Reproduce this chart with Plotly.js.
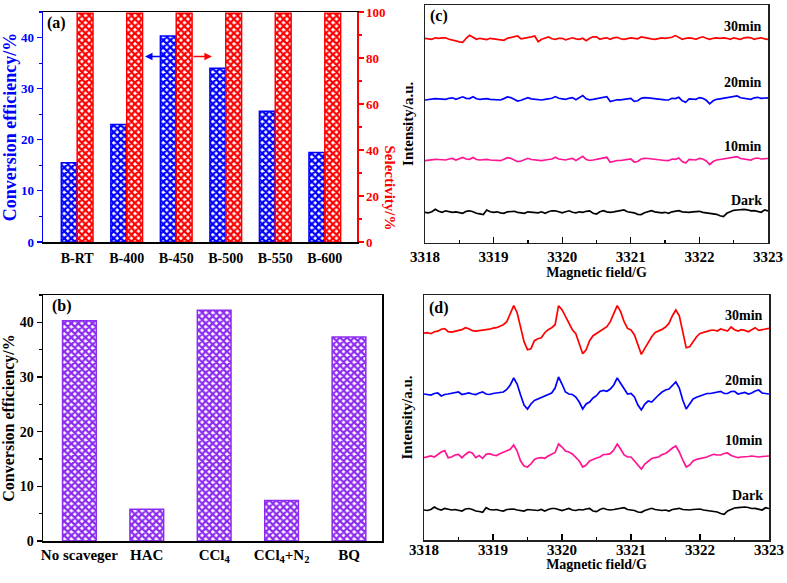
<!DOCTYPE html>
<html><head><meta charset="utf-8">
<script src="https://cdn.plot.ly/plotly-3.0.1.min.js"></script>
<style>html,body{margin:0;padding:0;background:#fff}</style>
</head><body><div id="chart" style="width:787px;height:583px"></div>
<script>
// ---------- Panel (a) ----------
const catsA = ['B-RT','B-400','B-450','B-500','B-550','B-600'];
const convA = [15.5, 23.0, 40.3, 34.0, 25.6, 17.5];
const selA  = [99.5, 99.5, 99.5, 99.5, 99.5, 99.5];
// ---------- Panel (b) ----------
const catsB = ['No scaveger','HAC','CCl<sub>4</sub>','CCl<sub>4</sub>+N<sub>2</sub>','BQ'];
const convB = [40.3, 5.8, 42.2, 7.4, 37.3];
// ---------- ESR field grid (G) ----------
const fieldStart = 3318, fieldStep = 0.05, fieldCount = 101;
const fieldTicks = [3318, 3319, 3320, 3321, 3322, 3323];
// ---------- Panel (c) spectra (deviation from baseline) ----------
const c30 = [0,-0.5,-1,0.5,0,0.5,0.5,-1,-1.5,-2.5,
  -3.5,-4,0,3,1,-1,0,-0.5,-1.3,0,
  -0.5,-1,-1.5,-2,0,0.7,1.3,2.3,-0.5,0,
  0.5,1.5,2.3,-3.5,-1,0.5,1.3,-0.5,-1,0,
  0,-1.5,-0.5,0.5,-0.5,-1,0,-2.5,0,1.5,
  1.5,-1,0,0.5,-1,0.5,1,-0.5,-1,0,
  0.5,0,-0.5,1.3,0.5,0,-0.5,-1,0,0.5,
  0,0.5,1,2.7,1,-1,0,0.5,0,-1,
  0.5,1.5,0,-1,0,0.5,0,0.5,0,-1,
  0.5,0,-1,0.5,1,0.5,-1,0,0.5,-0.5,
  -1];
const c20 = [-0.7,0,0.5,0.7,0.5,0,0,1,1.5,0,
  1,2.5,1,0.7,2.5,0.5,0,0.5,0.7,0,
  0,-0.5,-0.7,0.7,2.3,1.7,0,-1.7,-1,0,
  1.7,0.5,0,-0.5,-0.7,0,0.7,1,2.7,1,
  0.5,0,1,1.7,-0.5,1.5,3.7,0.5,-0.5,0,
  0.5,1,2,2.7,-2.3,-1.5,-0.5,-0.5,0,0,
  1,-2,-1.5,1,1.7,1.5,1,0.7,0,0,
  -0.5,-0.7,1,0.7,2,-1.5,-3,0.5,0,0,
  1.7,1,-1,-4.5,-1.5,0,0.5,1,1.5,2,
  2.7,3.3,1.5,1,0,0,1.5,2,1,1,
  1.5];
const c10 = c20.slice();
const darkSpec = [0,-0.5,0.5,3,1,0,1.5,0.5,0,0.5,
  -0.5,-1,1,1.5,0.5,-1,-1.5,-2.3,2.3,0.5,
  0,0.5,-0.5,-1,0.5,1,1,0,-0.5,-1,
  0.5,0,0,-0.5,0.5,-1,0.5,1.5,1.5,0.5,
  -0.5,0.5,1.5,0,-0.5,0.5,0,1,1.5,-1,
  -1.7,0.5,1.7,0.5,0,0.5,1,2,2.3,0.5,
  0,-0.5,-2,-2.3,-0.5,1,1.7,0.5,0,-0.5,
  0,-1,0.5,1,1.7,0.5,0,0,0.5,1,
  1,0,-0.5,-1,-1.5,-2,-3.5,-4.3,-1,0.5,
  2,2.3,2.7,3,2.5,1.5,1.7,0.5,0,2.3,
  1.5];
// ---------- Panel (d) spectra (deviation from baseline) ----------
const d30 = [-1.5,-1,-2,0,0.5,2.5,3,0,-0.5,0.5,
  1,2,4,3,1,0.5,1,1.5,1.5,2.5,
  3.5,4,5.5,7,10,18,26,19,3,-10,
  -18,-17,-9,-7,-6,-1,2,4,7,26,
  22,15,8,2,-2,-12,-22,-18,-9,-4,
  -1.7,0.7,3.3,5,10,18,26,20,10,3.3,
  1.7,-3.3,-13.3,-22.7,-16.7,-10.7,-5,-0.7,0.7,2.3,
  4.7,8.3,16,21.7,16,0,-16,-15,-10,-5,
  -1.7,-0.7,0.7,1.3,1.7,0.7,2.7,1.3,0.7,4.7,
  2,0.7,2,1.3,0,2,4,1.3,2,2.7,
  3.3];
const d20 = [0,-0.5,-1,0.5,1,-2,-0.5,0,0.5,1.5,
  2,-0.5,0.5,1,0,-0.5,1,2,0,-0.5,
  0.5,1,1.5,2,4.5,9,16,10,-1,-11,
  -15,-10,-6.5,-5,-4,-2,-0.5,1,6,17,
  10,2,0,-0.5,-3,-8,-15,-10,-8,-4,
  -1.7,2.5,3.5,2.7,5,9,16,11,5,0,
  0.5,-3,-11,-16,-10,-7,-8,-4,-1,2,
  4,5,9,12,6,-6,-15,-10,-5,-3.3,
  -2,0,0.5,0.5,1,1.5,2.7,0.5,0.5,2.5,
  2.7,0,0.5,1.5,0,1,3,4,1,0.5,
  0];
const d10 = [-0.7,0.5,1,0,2.7,5,6.5,-0.7,0,2,
  2.7,-0.7,2.5,5,4,-0.7,1.5,-1.3,2.7,3.3,
  2,1.5,3.3,5,6.5,7.7,12,6,-4,-9,
  -10,-7,-2.5,-1,-0.7,-1.3,1,3,4.5,13,
  10,6,5,3,-0.7,-4,-10,-8,-4,-2.3,
  -1,0,2.5,2.7,3.3,7,13,8,2,0,
  0,-4,-8,-12,-7,-4.5,-1.5,-0.7,0,2.5,
  3.5,6,9,11,5,-3,-10,-8,-4,-2.3,
  -1.5,-1.3,0,1.5,2.7,2,2,3.5,4,1.5,
  0,-0.7,0,0,0.5,1,0.5,0,0.5,1,
  1];
const dDark = darkSpec.slice();
// vertical stacking offsets (arbitrary intensity units)
const offC = {m30: 204.4, m20: 143.4, m10: 82.7, dark: 30.4};
const offD = {m30: 208.3, m20: 146.0, m10: 83.0, dark: 30.0};
const specLabels = ['30min','20min','10min','Dark'];

// ---------- build ----------
const field = [];
for (let i = 0; i < fieldCount; i++) field.push(+(fieldStart + i*fieldStep).toFixed(3));
const shift = (arr, o) => arr.map(v => v + o);

const F = 'Liberation Serif, Times New Roman, serif';
const RED = '#ff0000', BLUE = '#0000ff', PINK = '#ff1493', PURPLE = '#8d2cf0';
const pat = c => ({color: c, line: {color: c, width: 1.5},
  pattern: {shape: 'x', size: 5, solidity: 0.7, fillmode: 'replace'}});

const traces = [
  {type:'bar', x: catsA, y: convA, xaxis:'x', yaxis:'y', width:0.32, offset:-0.32, marker: pat(BLUE), hoverinfo:'none'},
  {type:'bar', x: catsA, y: selA, xaxis:'x', yaxis:'y2', width:0.32, offset:0.0, marker: pat(RED), hoverinfo:'none'},
  {type:'bar', x: catsB, y: convB, xaxis:'x2', yaxis:'y3', width:0.5, marker: pat(PURPLE), hoverinfo:'none'},
];
const lineT = (y, color, xa, ya) => ({type:'scatter', mode:'lines', x: field, y: y, xaxis: xa, yaxis: ya,
  line: {color: color, width: 1.7}, hoverinfo:'none'});
traces.push(lineT(shift(c30, offC.m30), RED, 'x3', 'y4'));
traces.push(lineT(shift(c20, offC.m20), BLUE, 'x3', 'y4'));
traces.push(lineT(shift(c10, offC.m10), PINK, 'x3', 'y4'));
traces.push(lineT(shift(darkSpec, offC.dark), '#000000', 'x3', 'y4'));
traces.push(lineT(shift(d30, offD.m30), RED, 'x4', 'y5'));
traces.push(lineT(shift(d20, offD.m20), BLUE, 'x4', 'y5'));
traces.push(lineT(shift(d10, offD.m10), PINK, 'x4', 'y5'));
traces.push(lineT(shift(dDark, offD.dark), '#000000', 'x4', 'y5'));

const W = 787, H = 583;
const px = v => v / W, py = v => 1 - v / H;
const bf = (size, color) => ({family: F, size: size, color: color || '#000', weight: 'bold'});

const fieldAxis = (dom, anchor, lso, tso) => ({domain: dom, anchor: anchor, range: [3318, 3323], tickvals: fieldTicks,
  ticks: 'inside', ticklen: 6, tickwidth: 1.2, tickcolor: '#000',
  minor: {dtick: 0.5, ticks: 'inside', ticklen: 3, tickcolor: '#000'},
  showline: true, linecolor: '#222', linewidth: 1.5, mirror: true, showgrid: false, zeroline: false,
  tickfont: bf(15), ticklabelstandoff: lso, title: {text: 'Magnetic field/G', font: bf(14), standoff: tso}});
const intAxis = (dom, anchor, top) => ({domain: dom, anchor: anchor, range: [0, top], showticklabels: false, ticks: '',
  showline: true, linecolor: '#222', linewidth: 1.5, mirror: true, showgrid: false, zeroline: false,
  title: {text: 'Intensity/a.u.', font: bf(15), standoff: 6}});

const layout = {
  width: W, height: H, autosize: false, margin: {l:0, r:0, t:0, b:0},
  paper_bgcolor: '#fff', plot_bgcolor: '#fff', showlegend: false, barmode: 'overlay',
  font: {family: F},
  xaxis: {domain: [px(43), px(357)], anchor: 'y', type: 'category', range: [-0.69, 5.65],
    showline: true, linecolor: '#000', linewidth: 1.5, mirror: true, ticks: '', showgrid: false,
    tickfont: bf(14), ticklabelstandoff: 3},
  yaxis: {domain: [py(242), py(12)], anchor: 'x', range: [0, 45], dtick: 10,
    ticks: 'outside', ticklen: 5, tickwidth: 1.2, tickcolor: BLUE,
    minor: {dtick: 5, ticks: 'outside', ticklen: 3, tickcolor: BLUE},
    showline: true, linecolor: BLUE, linewidth: 1.5, showgrid: false, zeroline: false,
    tickfont: bf(13, BLUE), title: {text: 'Conversion efficiency/%', font: bf(18, BLUE), standoff: 6}},
  yaxis2: {overlaying: 'y', side: 'right', anchor: 'x', range: [0, 100], dtick: 20,
    ticks: 'outside', ticklen: 5, tickwidth: 1.2, tickcolor: RED,
    minor: {dtick: 10, ticks: 'outside', ticklen: 3, tickcolor: RED},
    showline: true, linecolor: RED, linewidth: 1.5, showgrid: false, zeroline: false,
    tickfont: bf(13, RED)},
  xaxis2: {domain: [px(43), px(382)], anchor: 'y3', type: 'category', range: [-0.54, 4.49],
    showline: true, linecolor: '#000', linewidth: 1.5, mirror: true, ticks: '', showgrid: false,
    tickfont: bf(15), ticklabelstandoff: -1},
  yaxis3: {domain: [py(541), py(295)], anchor: 'x2', range: [0, 45], dtick: 10,
    ticks: 'outside', ticklen: 5, tickwidth: 1.2, tickcolor: '#000',
    minor: {dtick: 5, ticks: 'outside', ticklen: 3, tickcolor: '#000'},
    showline: true, linecolor: '#000', linewidth: 1.5, mirror: true, showgrid: false, zeroline: false,
    tickfont: bf(14), title: {text: 'Conversion efficiency/%', font: bf(16), standoff: 6}},
  xaxis3: fieldAxis([px(425), px(768)], 'y4', 0, 2),
  yaxis4: intAxis([py(242.7), py(5)], 'x3', 237.7),
  xaxis4: fieldAxis([px(424), px(769)], 'y5', -5, 0),
  yaxis5: intAxis([py(540), py(295)], 'x4', 245),
  annotations: [
    {xref:'paper', yref:'paper', x: px(45), y: py(23), xanchor:'left', yanchor:'middle', text:'(a)', showarrow:false, font: bf(16)},
    {xref:'paper', yref:'paper', x: px(50), y: py(306), xanchor:'left', yanchor:'middle', text:'(b)', showarrow:false, font: bf(16)},
    {xref:'paper', yref:'paper', x: px(428), y: py(16), xanchor:'left', yanchor:'middle', text:'(c)', showarrow:false, font: bf(16)},
    {xref:'paper', yref:'paper', x: px(427), y: py(308), xanchor:'left', yanchor:'middle', text:'(d)', showarrow:false, font: bf(16)},
    {xref:'paper', yref:'paper', x: px(389), y: py(143), textangle: 90, text:'Selectivity/%', showarrow:false, font: bf(15, RED)},
    {xref:'x', yref:'y', axref:'x', ayref:'y', x: 1.37, y: 36.3, ax: 1.81, ay: 36.3, text:'', showarrow:true,
      arrowhead: 2, arrowsize: 1, arrowwidth: 1.5, arrowcolor: BLUE},
    {xref:'x', yref:'y', axref:'x', ayref:'y', x: 2.72, y: 36.3, ax: 2.32, ay: 36.3, text:'', showarrow:true,
      arrowhead: 2, arrowsize: 1, arrowwidth: 1.5, arrowcolor: RED},
  ]
};
const cLabelY = [26.7, 82.7, 146.7, 200];
const dLabelY = [315, 380, 440, 495];
specLabels.forEach((t, k) => {
  layout.annotations.push({xref:'paper', yref:'paper', x: px(764), y: py(cLabelY[k]), xanchor:'right', yanchor:'middle', text: t, showarrow:false, font: bf(14)});
  layout.annotations.push({xref:'paper', yref:'paper', x: px(765), y: py(dLabelY[k]), xanchor:'right', yanchor:'middle', text: t, showarrow:false, font: bf(14)});
});

Plotly.newPlot('chart', traces, layout, {staticPlot: true, displayModeBar: false});
</script></body></html>
